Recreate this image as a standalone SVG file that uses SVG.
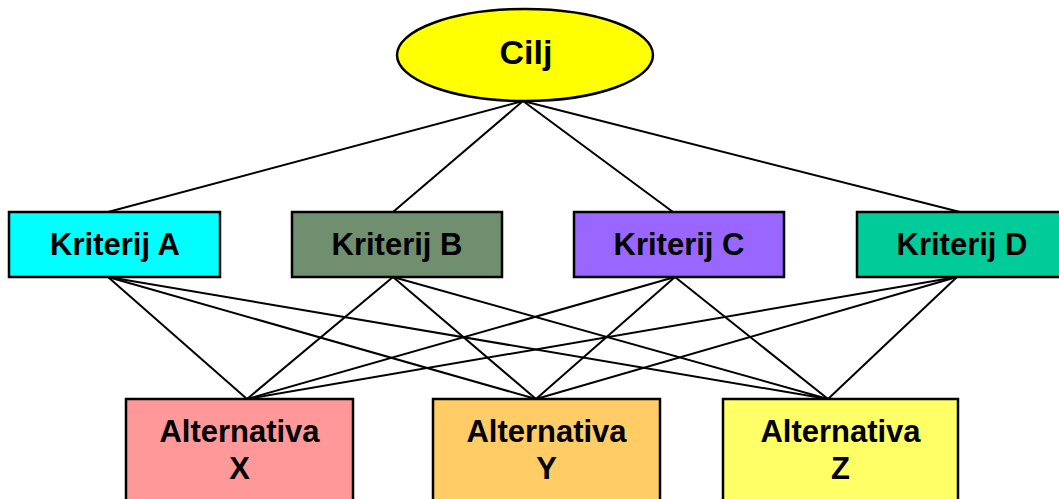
<svg xmlns="http://www.w3.org/2000/svg" width="1059" height="499" viewBox="0 0 1059 499">
<style>
.n{stroke:#000;stroke-width:2.5}
.t{font-family:"Liberation Sans",Arial,sans-serif;font-weight:bold;font-size:31px;fill:#000;text-anchor:middle}
.c line{stroke:#000;stroke-width:2}
</style>
<rect width="1059" height="499" fill="#fff"/>
<g class="c" id="connectors">
<line x1="523" y1="101" x2="108" y2="212"/>
<line x1="523" y1="101" x2="393" y2="212"/>
<line x1="523" y1="101" x2="673" y2="212"/>
<line x1="523" y1="101" x2="960" y2="212"/>
<line x1="108" y1="277" x2="247" y2="399"/>
<line x1="108" y1="277" x2="536" y2="399"/>
<line x1="108" y1="277" x2="828" y2="399"/>
<line x1="393" y1="277" x2="247" y2="399"/>
<line x1="393" y1="277" x2="536" y2="399"/>
<line x1="393" y1="277" x2="828" y2="399"/>
<line x1="675" y1="277" x2="247" y2="399"/>
<line x1="675" y1="277" x2="536" y2="399"/>
<line x1="675" y1="277" x2="828" y2="399"/>
<line x1="957" y1="277" x2="247" y2="399"/>
<line x1="957" y1="277" x2="536" y2="399"/>
<line x1="957" y1="277" x2="828" y2="399"/>
</g>
<g id="cilj">
<ellipse class="n" cx="525" cy="55" rx="128" ry="46" fill="#FFFF00"/>
<text class="t" x="526" y="64" style="font-size:34px">Cilj</text>
</g>
<g id="kriterijA">
<rect class="n" x="9" y="212" width="211" height="65" fill="#00FFFF"/>
<text class="t" x="115" y="255">Kriterij A</text>
</g>
<g id="kriterijB">
<rect class="n" x="292" y="212" width="210" height="65" fill="#6F8F6F"/>
<text class="t" x="397" y="255">Kriterij B</text>
</g>
<g id="kriterijC">
<rect class="n" x="574" y="212" width="210" height="65" fill="#9966FF"/>
<text class="t" x="679" y="255">Kriterij C</text>
</g>
<g id="kriterijD">
<rect class="n" x="857" y="212" width="211" height="65" fill="#00CC99"/>
<text class="t" x="962" y="255">Kriterij D</text>
</g>
<g id="altX">
<rect class="n" x="126" y="399" width="227" height="110" fill="#FF9999"/>
<text class="t" x="239.5" y="442">Alternativa</text>
<text class="t" x="239.5" y="479">X</text>
</g>
<g id="altY">
<rect class="n" x="433" y="399" width="227" height="110" fill="#FFCC66"/>
<text class="t" x="546.5" y="442">Alternativa</text>
<text class="t" x="546.5" y="479">Y</text>
</g>
<g id="altZ">
<rect class="n" x="723" y="399" width="235" height="110" fill="#FFFF66"/>
<text class="t" x="840.5" y="442">Alternativa</text>
<text class="t" x="840.5" y="479">Z</text>
</g>
</svg>
